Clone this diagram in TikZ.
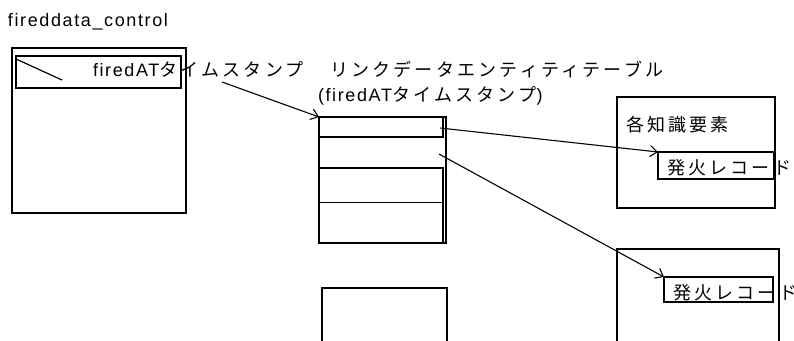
\documentclass[tikz,border=0pt]{standalone}
\usepackage{fontspec}
\setmainfont[LetterSpace=9]{Liberation Sans}
\newfontfamily\jp[LetterSpace=18]{Noto Sans CJK JP}
\usetikzlibrary{arrows.meta}
\begin{document}
\begin{tikzpicture}[x=1pt,y=-1pt,
  frame/.style={draw, line width=1.3pt, inner sep=0pt, outer sep=0pt, anchor=north west},
  thickframe/.style={frame, line width=2.3pt},
  thinframe/.style={frame, line width=1.4pt},
  txt/.style={anchor=base west, inner sep=0pt, outer sep=0pt, font=\fontsize{18}{20}\selectfont},
  arr/.style={line width=1.1pt, -{Straight Barb[length=7pt,width=11pt]}}]
\useasboundingbox (0,0) rectangle (794,340);
\clip (0,0) rectangle (794,340);
% left control box
\node[txt] (ctrltitle) at (8,27) {fireddata\_control};
\node[frame, minimum width=174pt, minimum height=165pt] (ctrl) at (12,48) {};
\node[frame, minimum width=165pt, minimum height=32pt] (ctrlrow) at (16,56) {};
\coordinate (d1) at (16,59);
\coordinate (d2) at (62,80);
\draw[line width=1.2pt] (d1) -- (d2);
\node[txt] (ctrllabel) at (93,76) {firedAT{\jp タイムスタンプ}};
% link data table
\node[txt] (linktitle) at (330,76) {\jp リンクデータエンティティテーブル};
\node[txt] (linksub) at (318,101) {(firedAT{\jp タイムスタンプ})};
\node[thinframe, minimum width=127pt, minimum height=126pt] (linkouter) at (319,117) {};
\node[thickframe, minimum width=124pt, minimum height=20pt] (link1) at (319,117) {};
\node[thickframe, minimum width=124pt, minimum height=75pt] (link2) at (319,168) {};
\coordinate (r1) at (319,202);
\coordinate (r2) at (443,202);
\draw[line width=0.8pt] (r1) -- (r2);
\node[frame, minimum width=125pt, minimum height=70pt] (linkbottom) at (322,288) {};
% right top element
\node[frame, minimum width=158pt, minimum height=111pt] (elem1) at (617,97) {};
\node[txt] (elem1label) at (626,131) {\jp 各知識要素};
\node[frame, minimum width=116pt, minimum height=27pt] (rec1) at (658,152) {};
\node[txt] (rec1label) at (667,174) {\jp 発火レコード};
% right bottom element
\node[frame, minimum width=162pt, minimum height=110pt] (elem2) at (617,249) {};
\node[frame, minimum width=109pt, minimum height=25pt] (rec2) at (664,277) {};
\node[txt] (rec2label) at (673,299) {\jp 発火レコード};
% arrows
\coordinate (a1s) at (222,82);
\coordinate (a2s) at (440,128);
\coordinate (a3s) at (439,154);
\draw[arr] (a1s) -- (link1.north west);
\draw[arr] (a2s) -- (rec1.north west);
\draw[arr] (a3s) -- (rec2.north west);
\end{tikzpicture}
\end{document}
